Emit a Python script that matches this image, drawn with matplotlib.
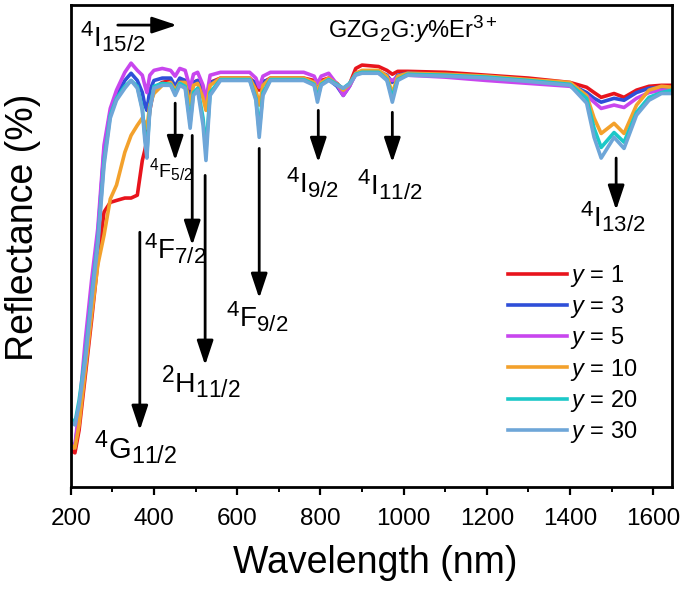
import numpy as np
import matplotlib.pyplot as plt
import matplotlib._mathtext as mt
from matplotlib.ticker import MultipleLocator

plt.rcParams['font.family'] = ['Liberation Sans', 'DejaVu Sans']
plt.rcParams['mathtext.fontset'] = 'custom'
plt.rcParams['mathtext.rm'] = 'Liberation Sans'
plt.rcParams['mathtext.it'] = 'Liberation Sans:italic'
plt.rcParams['mathtext.default'] = 'regular'
# term symbols in the figure use big sub/superscripts
mt.SHRINK_FACTOR = 0.8

# wavelength knots (nm)
wl = [200, 210, 220, 235, 250, 265, 280, 295, 310, 330,
      345, 360, 372, 378, 383, 390, 400, 420, 440, 451,
      462, 475, 487, 495, 505, 518, 525, 535, 560, 600,
      630, 645, 653, 662, 680, 720, 760, 785, 793, 802,
      820, 840, 855, 870, 885, 900, 940, 960, 973, 986,
      1010, 1100, 1200, 1300, 1400, 1440, 1458, 1475, 1506, 1530,
      1560, 1590, 1620, 1645]

# reflectance (arb. %), one list per Er content
r_y1 = [7.7, 7.1, 11.8, 23.2, 34.6, 46.7, 57.1, 59.1, 59.5, 60.0,
        60.0, 60.6, 67.8, 69.9, 72.0, 78.2, 82.8, 84.0, 84.4, 82.8,
        84.4, 84.4, 81.3, 84.0, 84.4, 82.4, 80.7, 84.0, 84.9, 84.9,
        84.9, 83.6, 82.4, 84.0, 84.9, 84.9, 84.9, 84.4, 83.2, 84.4,
        84.9, 83.8, 82.4, 83.6, 86.9, 87.6, 87.3, 86.5, 85.7, 86.3,
        86.3, 86.1, 85.5, 84.9, 84.0, 83.0, 81.9, 80.9, 81.7, 80.9,
        82.4, 83.2, 83.4, 83.4]
r_y3 = [9.1, 8.5, 14.9, 28.4, 40.9, 52.3, 69.9, 77.8, 81.3, 84.4,
        85.9, 84.4, 81.9, 79.3, 78.2, 82.4, 84.4, 84.9, 84.9, 83.2,
        84.9, 84.4, 80.3, 84.0, 84.4, 81.3, 79.3, 84.0, 84.6, 84.6,
        84.6, 84.0, 83.2, 84.2, 84.6, 84.6, 84.6, 84.0, 82.8, 84.0,
        84.6, 83.2, 81.3, 83.2, 85.9, 86.3, 86.3, 85.5, 84.0, 85.5,
        85.9, 85.5, 84.9, 84.2, 83.6, 81.9, 80.7, 79.9, 80.7, 80.3,
        81.9, 82.8, 83.0, 82.8]
r_y5 = [8.7, 8.7, 16.0, 30.5, 42.9, 53.7, 71.0, 78.6, 82.4, 86.1,
        88.0, 86.5, 85.5, 83.4, 81.9, 85.5, 86.5, 86.9, 86.5, 85.3,
        86.9, 86.5, 82.8, 85.7, 86.1, 83.4, 80.3, 85.5, 86.1, 86.1,
        86.1, 84.9, 83.0, 85.3, 86.1, 86.1, 86.1, 85.3, 83.8, 85.3,
        85.9, 83.6, 81.3, 83.2, 85.7, 86.1, 85.9, 84.9, 84.4, 85.1,
        85.5, 85.1, 84.4, 83.8, 83.2, 81.3, 79.9, 78.6, 79.3, 78.8,
        80.7, 81.9, 82.4, 82.4]
r_y10 = [8.7, 8.1, 12.9, 24.3, 35.7, 46.1, 52.3, 59.8, 62.7, 69.5,
         73.0, 75.1, 76.6, 75.7, 74.5, 79.3, 81.7, 83.4, 84.0, 82.4,
         84.0, 84.0, 79.3, 83.4, 83.8, 80.7, 78.2, 83.4, 84.9, 84.9,
         84.9, 82.4, 79.3, 83.4, 84.9, 84.9, 84.9, 84.0, 82.4, 84.0,
         84.9, 83.6, 82.4, 83.6, 85.9, 86.5, 86.5, 85.3, 81.7, 85.3,
         85.9, 85.7, 85.3, 84.6, 84.0, 81.3, 76.6, 73.4, 75.5, 73.4,
         79.3, 82.4, 83.2, 83.0]
r_y20 = [14.3, 13.3, 18.0, 27.4, 39.8, 51.2, 67.8, 77.2, 80.7, 83.2,
         84.4, 83.2, 78.6, 73.0, 69.5, 78.6, 83.2, 83.8, 83.6, 81.7,
         83.8, 83.2, 75.7, 81.9, 82.8, 76.6, 69.9, 81.9, 84.6, 84.6,
         84.6, 80.7, 74.1, 81.9, 84.6, 84.6, 84.6, 83.6, 80.7, 83.6,
         84.6, 83.6, 82.8, 83.8, 85.7, 86.1, 86.1, 84.6, 80.9, 84.6,
         85.7, 85.5, 85.1, 84.4, 83.6, 80.7, 74.5, 70.5, 73.6, 71.6,
         77.8, 80.9, 81.9, 82.4]
r_y30 = [13.5, 12.9, 17.0, 26.3, 38.8, 50.2, 66.8, 76.6, 80.3, 82.8,
         84.4, 82.8, 78.2, 72.0, 68.3, 78.2, 82.8, 83.4, 83.4, 81.3,
         83.4, 82.8, 74.5, 81.3, 82.4, 75.1, 67.8, 81.3, 84.4, 84.4,
         84.4, 80.3, 72.6, 81.3, 84.4, 84.4, 84.4, 83.4, 79.9, 83.4,
         84.4, 83.4, 82.8, 83.6, 85.5, 85.9, 85.9, 84.4, 79.9, 84.4,
         85.5, 85.3, 84.9, 84.2, 83.4, 79.7, 72.6, 68.3, 72.6, 70.3,
         77.2, 80.3, 81.7, 81.7]

y_labels = ['1', '3', '5', '10', '20', '30']
colors = ['#e8141c', '#2f4fd8', '#c846ee', '#f3a12c', '#1cc8c8', '#6ea6d8']

# transition labels and arrows: (label, x of arrow, y start, y tip, label x, label y, size)
trans = [
    (r'$^4$F$_{5/2}$', 451, 79.7, 67.8, 388, 64.3, 14),
    (r'$^4$F$_{7/2}$', 492, 73.0, 50.2, 376, 47.3, 20),
    (r'$^4$G$_{11/2}$', 366, 52.9, 11.8, 256, 6.0, 21),
    (r'$^2$H$_{11/2}$', 523, 64.7, 25.3, 416, 19.6, 20.5),
    (r'$^4$F$_{9/2}$', 653, 70.3, 39.2, 574, 33.2, 20),
    (r'$^4$I$_{9/2}$', 795, 78.2, 67.4, 718, 61.0, 20),
    (r'$^4$I$_{11/2}$', 973, 77.8, 67.4, 887, 60.6, 20),
    (r'$^4$I$_{13/2}$', 1511, 68.3, 57.5, 1425, 53.9, 20),
]

fig = plt.figure(figsize=(6.87, 5.94), dpi=100)
ax = fig.add_axes([0.103, 0.180, 0.875, 0.811])

series = [r_y1, r_y3, r_y5, r_y10, r_y20, r_y30]
for vals, lab, c in zip(series, y_labels, colors):
    ax.plot(wl, vals, color=c, lw=2.6, label=r'$\mathit{y}$ = ' + lab,
            solid_joinstyle='round')

arrow_style = dict(arrowstyle='-|>,head_length=0.75,head_width=0.25',
                   color='k', lw=2, shrinkA=0, shrinkB=0, mutation_scale=20)
for lab, xa, y0, y1, xt, yt, fs in trans:
    ax.annotate('', xy=(xa, y1), xytext=(xa, y0), arrowprops=arrow_style)
    ax.text(xt, yt, lab, fontsize=fs, ha='left', va='baseline')

# ground state arrow
ax.annotate('', xy=(455, 95.9), xytext=(313, 95.9), arrowprops=arrow_style)
ax.text(222, 91.3, r'$^4$I$_{15/2}$', fontsize=20, ha='left', va='baseline')
ax.text(819, 93.2, r'GZG$_2$G:$\mathit{y}$%Er$^{3+}$', fontsize=17,
        ha='left', va='baseline')

ax.set_xlim(200, 1645)
ax.set_ylim(0, 100)
ax.set_yticks([])
ax.xaxis.set_major_locator(MultipleLocator(200))
ax.xaxis.set_minor_locator(MultipleLocator(100))
ax.tick_params(axis='x', which='major', direction='out', length=6, width=1.6,
               labelsize=17.5, pad=9)
ax.tick_params(axis='x', which='minor', direction='out', length=3.5, width=1.4)
for s in ax.spines.values():
    s.set_linewidth(2)

ax.set_xlabel('Wavelength (nm)', fontsize=27)
ax.xaxis.set_label_coords(0.507, -0.12)
ax.set_ylabel('Reflectance (%)', fontsize=27)
ax.yaxis.set_label_coords(-0.05, 0.54)

ax.legend(loc='upper left', bbox_to_anchor=(0.727, 0.465), frameon=False,
          fontsize=17, handlelength=2.5, handletextpad=0.15, labelspacing=0.22,
          borderpad=0, borderaxespad=0)

fig.savefig('out.png', dpi=100)
